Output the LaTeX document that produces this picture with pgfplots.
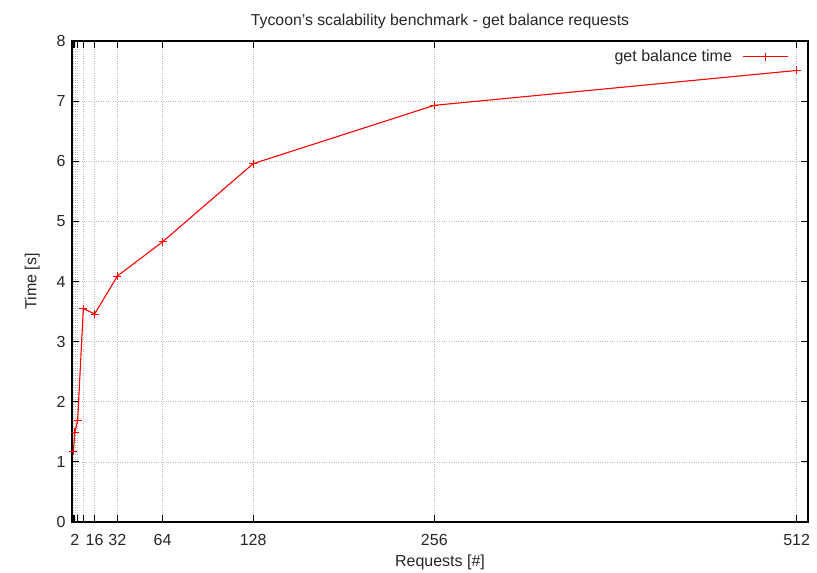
\documentclass[border=0pt]{standalone}
\usepackage{pgfplots}
\pgfplotsset{compat=1.18}
\usepackage{fontspec}
\setmainfont{Liberation Sans}
\begin{document}
\begin{tikzpicture}[font=\fontsize{16}{18}\selectfont]
\begin{axis}[
    scale only axis,
    width=736pt, height=481pt,
    xmin=0, xmax=520,
    ymin=0, ymax=8,
    xtick={1,2,4,8,16,32,64,128,256,512},
    xticklabels={,2,,,16,32,64,128,256,512},
    ytick={0,1,2,3,4,5,6,7,8},
    /pgf/number format/assume math mode=true,
    ticklabel style={font=\fontsize{16}{18}\selectfont, text=black!85},
    label style={font=\fontsize{16}{18}\selectfont, text=black!85},
    title style={font=\fontsize{15.8}{18}\selectfont, text=black!85, yshift=3pt},
    tick align=inside,
    major tick length=7pt,
    tick style={black, line width=0.8pt},
    axis line style={line width=1.2pt},
    grid=major,
    grid style={gray!55, dotted, line width=0.6pt},
    xlabel={Requests [\#]},
    ylabel={Time [s]},
    title={Tycoon's scalability benchmark - get balance requests},
    xticklabel style={yshift=-9pt},
    yticklabel style={xshift=-3pt},
    xlabel style={yshift=-2pt},
    ylabel style={yshift=10pt},
    legend plot pos=right,
    legend style={draw=none, fill=none, at={(0.978,0.99)}, anchor=north east,
      font=\fontsize{16}{18}\selectfont, text=black!85},
    legend cell align=right,
    legend image code/.code={
      \path[draw=none, fill=none] (0cm,-0.1cm) rectangle (1.9cm,0.1cm);
      \draw[#1, mark=none] (0.3cm,0cm) -- (1.9cm,0cm);
      \draw[#1, only marks] plot coordinates {(1.1cm,0cm)};
    },
  ]
  \coordinate (sw) at (rel axis cs:0,0);
  \coordinate (ne) at (rel axis cs:1,1);
  \addplot[red, line width=1.1pt, mark=+, mark size=4pt, mark options={line width=0.8pt}] coordinates {
    (1,1.18) (2,1.49) (4,1.69) (8,3.55) (16,3.46) (32,4.09) (64,4.66) (128,5.96) (256,6.93) (512,7.51)
  };
  \addlegendentry{get balance time}
\end{axis}
\path[use as bounding box] ([shift={(-72pt,-50pt)}]sw) rectangle ([shift={(9pt,41pt)}]ne);
\end{tikzpicture}
\end{document}
